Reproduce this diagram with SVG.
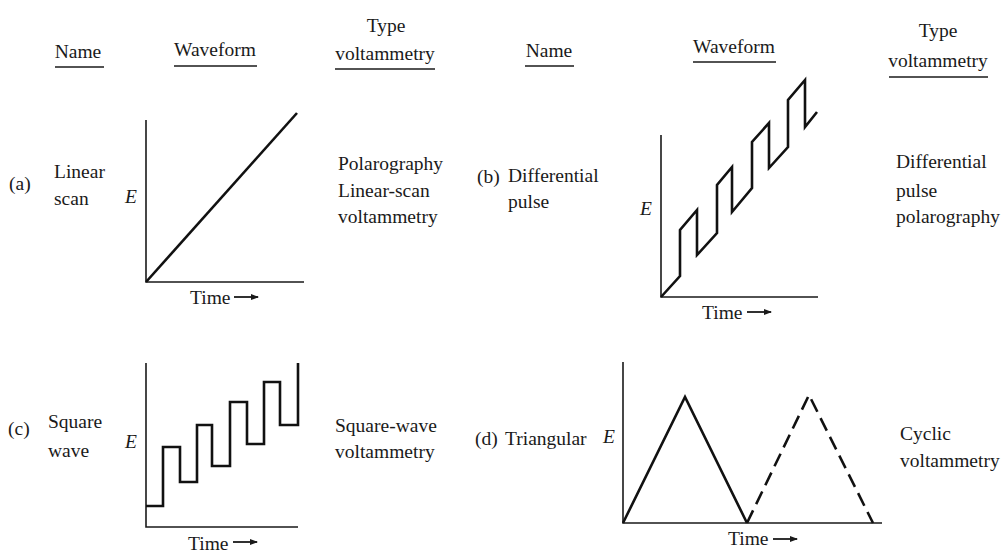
<svg xmlns="http://www.w3.org/2000/svg" width="1004" height="552" viewBox="0 0 1004 552">
<defs>
<style>
text{font-family:"Liberation Serif","Times New Roman",serif;font-size:19.5px;fill:#1a1a1a}
.it{font-style:italic}
.mid{text-anchor:middle}
.ax{fill:none;stroke:#1a1a1a;stroke-width:1.6}
.wv{fill:none;stroke:#111;stroke-width:2.6;stroke-linejoin:miter}
.ul{stroke:#1a1a1a;stroke-width:1.6}
.tarrow{fill:none;stroke:#1a1a1a;stroke-width:1.8}
.dash{stroke-dasharray:14 7}
</style>
<marker id="ah" markerWidth="8" markerHeight="6" refX="7" refY="3" orient="auto" markerUnits="userSpaceOnUse">
<path d="M0,0 L8,3 L0,6 Z" fill="#1a1a1a"/>
</marker>
</defs>
<rect width="1004" height="552" fill="#fff"/>

<g id="headers-left">
<text x="78" y="58" class="mid">Name</text>
<line class="ul" x1="55" y1="67" x2="104" y2="67"/>
<text x="215" y="56" class="mid">Waveform</text>
<line class="ul" x1="174" y1="66" x2="257" y2="66"/>
<text x="386" y="32" class="mid">Type</text>
<text x="385" y="60" class="mid">voltammetry</text>
<line class="ul" x1="335" y1="69" x2="435" y2="69"/>
</g>
<g id="headers-right">
<text x="549" y="57" class="mid">Name</text>
<line class="ul" x1="525" y1="66" x2="574" y2="66"/>
<text x="734" y="53" class="mid">Waveform</text>
<line class="ul" x1="693" y1="62" x2="776" y2="62"/>
<text x="938" y="37" class="mid">Type</text>
<text x="938" y="67" class="mid">voltammetry</text>
<line class="ul" x1="889" y1="77" x2="988" y2="77"/>
</g>

<g id="panel-a">
<text x="9" y="190">(a)</text>
<text x="54" y="178">Linear</text>
<text x="54" y="205">scan</text>
<text x="125" y="203" class="it">E</text>
<path class="ax" d="M146,120 V282 H304"/>
<path class="wv" d="M146,282 L297,113"/>
<text x="190" y="304">Time</text>
<line class="tarrow" x1="234" y1="297" x2="258" y2="297" marker-end="url(#ah)"/>
<text x="338" y="170">Polarography</text>
<text x="338" y="197">Linear-scan</text>
<text x="338" y="223">voltammetry</text>
</g>

<g id="panel-b">
<text x="477" y="183">(b)</text>
<text x="508" y="182">Differential</text>
<text x="508" y="208">pulse</text>
<text x="640" y="215" class="it">E</text>
<path class="ax" d="M661,135 V297 H818"/>
<path class="wv" d="M661,297 L680,276 V230 L697,210 V255 L717,233 V185 L732,167 V212 L752,188 V142 L769,123 V168 L788,147 V100 L805,80 V127 L817,112"/>
<text x="702" y="319">Time</text>
<line class="tarrow" x1="747" y1="312" x2="771" y2="312" marker-end="url(#ah)"/>
<text x="896" y="168">Differential</text>
<text x="896" y="197">pulse</text>
<text x="896" y="223">polarography</text>
</g>

<g id="panel-c">
<text x="8" y="435">(c)</text>
<text x="48" y="428">Square</text>
<text x="48" y="457">wave</text>
<text x="125" y="448" class="it">E</text>
<path class="ax" d="M146,363 V527 H298"/>
<path class="wv" d="M146,506 H163 V447 H180 V482 H197 V425 H212 V466 H230 V402 H247 V444 H264 V382 H280 V425 H298 V363"/>
<text x="188" y="550">Time</text>
<line class="tarrow" x1="233" y1="542" x2="257" y2="542" marker-end="url(#ah)"/>
<text x="335" y="432">Square-wave</text>
<text x="335" y="458">voltammetry</text>
</g>

<g id="panel-d">
<text x="475" y="445">(d)</text>
<text x="505" y="445">Triangular</text>
<text x="603" y="443" class="it">E</text>
<path class="ax" d="M623,362 V523 H882"/>
<path class="wv" d="M623,523 L685,397 L747,523"/>
<path class="wv dash" d="M747,523 L809,395 L873,523"/>
<text x="728" y="545">Time</text>
<line class="tarrow" x1="773" y1="539" x2="797" y2="539" marker-end="url(#ah)"/>
<text x="900" y="440">Cyclic</text>
<text x="900" y="467">voltammetry</text>
</g>
</svg>
